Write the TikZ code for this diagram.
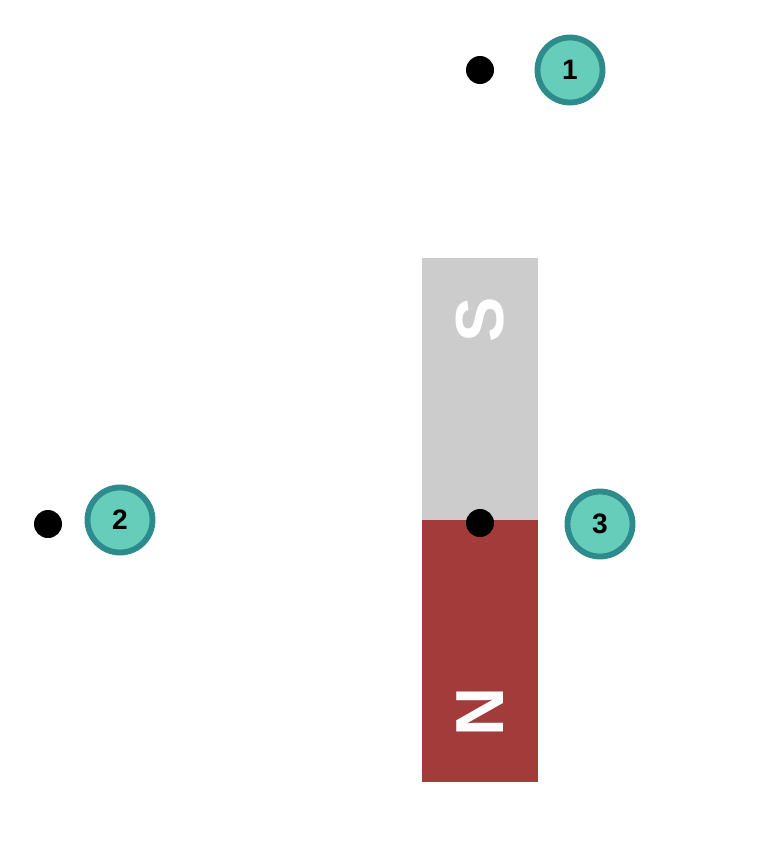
\documentclass[tikz,border=0pt]{standalone}
\usepackage{fontspec}
\setmainfont{Liberation Sans}
\definecolor{colsouth}{RGB}{204,204,204}
\definecolor{colnorth}{RGB}{163,59,59}
\definecolor{colbadge}{RGB}{102,205,187}
\definecolor{colring}{RGB}{46,139,139}
\tikzset{
  point/.style={circle,fill=black,inner sep=0pt,minimum size=0.84cm},
  badge/.style={circle,fill=colbadge,draw=colring,line width=5pt,
    minimum size=1.95cm,inner sep=0pt,font=\fontsize{24}{26}\selectfont\bfseries},
  pole/.style={text=white,font=\fontsize{58}{60}\selectfont\bfseries,rotate=90}
}
\begin{document}
\begin{tikzpicture}[x=0.03cm,y=-0.03cm]
  \useasboundingbox (0,0) rectangle (760,849);

  % the magnet
  \fill[colsouth] (422,258) rectangle (538,520);
  \fill[colnorth] (422,520) rectangle (538,782);
  \node[pole] (south) at (480,320) {S};
  \node[pole] (north) at (480,712) {N};

  % the points
  \node[point] (p1) at (480,70) {};
  \node[point] (p2) at (48,524) {};
  \node[point] (p3) at (480,523) {};

  % the labels
  \node[badge] (b1) at (570,70) {1};
  \node[badge] (b2) at (120,520) {2};
  \node[badge] (b3) at (600,524) {3};
\end{tikzpicture}
\end{document}
